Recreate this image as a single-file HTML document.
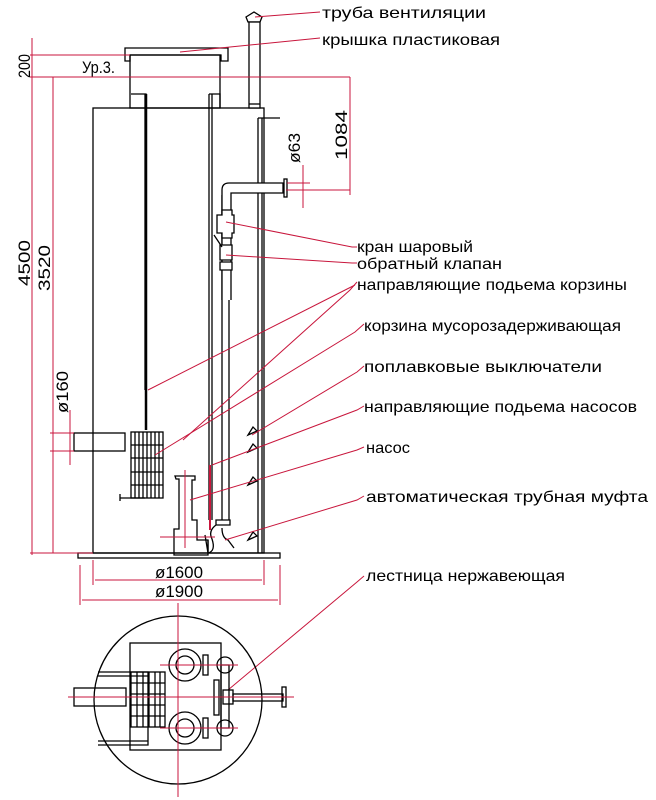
<!DOCTYPE html>
<html><head><meta charset="utf-8"><style>
html,body{margin:0;padding:0;background:#fff}
svg{display:block}
text{font-family:"Liberation Sans",sans-serif;fill:#000}
.k{stroke:#000;stroke-width:1.3;fill:none}
.kw{stroke:#000;stroke-width:1.3;fill:#fff}
.r{stroke:#c8163c;stroke-width:1;fill:none}
.lb{font-size:16px}
.dm{font-size:17px}
</style></head><body>
<svg width="656" height="800" viewBox="0 0 656 800" xmlns="http://www.w3.org/2000/svg">
<path class="k" d="M125 61 V48 H228 V61 H221 V55 H130 V61 Z"/>
<rect class="k" x="130" y="55" width="90" height="53"/>
<rect class="k" x="93" y="108" width="171" height="445"/>
<rect class="k" x="78" y="553" width="202" height="5"/>
<path class="kw" d="M246 17 L254 12 L262 17 L260 22 H248 Z"/>
<rect class="kw" x="249" y="22" width="11" height="86"/>
<line class="k" x1="249" y1="104" x2="260" y2="104"/>
<path class="k" d="M131 94 H146 V390 M145 94 V390" />
<line x1="146" y1="94" x2="146" y2="430" stroke="#000" stroke-width="2.5"/>
<path class="k" d="M209 94 H220 V108 M209 94 V520"/>
<line class="k" x1="212" y1="94" x2="212" y2="520"/>
<path class="k" d="M258 118 H280 M258 118 V553 M262 118 V553"/>
<line class="k" x1="222" y1="195" x2="222" y2="520"/>
<line class="k" x1="229" y1="195" x2="229" y2="520"/>
<path class="kw" d="M222 300 V190 Q222 183 229 183 H283 V193 H231 V300"/>
<rect class="k" x="284" y="179" width="3" height="18"/>
<path class="kw" d="M217 215 h5 v-5 h10 v5 h2 v18 h-2 v5 h-10 v-5 h-5z"/>
<path class="kw" d="M220 245 h12 v15 h-12z M214 235 l8 12 M220 262 h12 v8 h-12z"/>
<path class="k" d="M248 435 l5 -8 l4 4 z M248 452 l5 -8 l4 4 z M248 485 l5 -8 l4 4 z M248 540 l5 -8 l4 4 z"/>
<g class="k">
<rect x="131" y="432" width="32" height="66"/>
<line x1="135" y1="432" x2="135" y2="498"/><line x1="139" y1="432" x2="139" y2="498"/><line x1="143" y1="432" x2="143" y2="498"/><line x1="147" y1="432" x2="147" y2="498"/><line x1="151" y1="432" x2="151" y2="498"/><line x1="155" y1="432" x2="155" y2="498"/><line x1="159" y1="432" x2="159" y2="498"/>
<line x1="131" y1="445" x2="163" y2="445"/><line x1="131" y1="458" x2="163" y2="458"/><line x1="131" y1="472" x2="163" y2="472"/><line x1="131" y1="485" x2="163" y2="485"/>
<line x1="120" y1="498" x2="145" y2="498"/><line x1="120" y1="494" x2="120" y2="501"/>
</g>
<rect class="k" x="74" y="433" width="51" height="18"/>
<path class="k" d="M175 476 h20 v4 h-3 v40 h5 v20 h11 v15 h-34 v-26 h5 v-50 h-3z"/>
<path class="k" d="M208 540 v12 M205 535 l3 18 M216 525 q-8 6 -4 14 q4 12 -4 14 M222 528 q0 10 6 12 l6 8 M216 520 h14 v5 h-14z"/>
<line class="r" x1="185" y1="470" x2="185" y2="548"/>
<line class="r" x1="160" y1="537" x2="215" y2="537"/>
<line x1="210" y1="465" x2="210" y2="530" stroke="#c8163c" stroke-width="2"/>
<g class="r">
<line x1="32" y1="38" x2="32" y2="555"/>
<line x1="30" y1="55" x2="130" y2="55"/>
<line x1="30" y1="77" x2="350" y2="77"/>
<line x1="53" y1="77" x2="53" y2="553"/>
<line x1="30" y1="553" x2="93" y2="553"/>
<line x1="70" y1="410" x2="70" y2="465"/>
<line x1="50" y1="433" x2="74" y2="433"/>
<line x1="50" y1="451" x2="74" y2="451"/>
<line x1="80" y1="565" x2="80" y2="605"/>
<line x1="93" y1="560" x2="93" y2="585"/>
<line x1="264" y1="560" x2="264" y2="585"/>
<line x1="280" y1="565" x2="280" y2="605"/>
<line x1="95" y1="580" x2="262" y2="580"/>
<line x1="82" y1="600" x2="278" y2="600"/>
<line x1="350" y1="77" x2="350" y2="195"/>
<line x1="286" y1="190" x2="350" y2="190"/>
<line x1="287" y1="183" x2="310" y2="183"/>
<line x1="303" y1="165" x2="303" y2="208"/>
</g>
<text class="dm" transform="translate(30 78) rotate(-90)" textLength="24" lengthAdjust="spacingAndGlyphs">200</text>
<text class="dm" transform="translate(30 286) rotate(-90)" textLength="46" lengthAdjust="spacingAndGlyphs">4500</text>
<text class="dm" transform="translate(50 291) rotate(-90)" textLength="46" lengthAdjust="spacingAndGlyphs">3520</text>
<text class="dm" transform="translate(68 413) rotate(-90)" textLength="42" lengthAdjust="spacingAndGlyphs">ø160</text>
<text class="dm" transform="translate(300 163) rotate(-90)" textLength="30" lengthAdjust="spacingAndGlyphs">ø63</text>
<text class="dm" transform="translate(347 160) rotate(-90)" textLength="50" lengthAdjust="spacingAndGlyphs">1084</text>
<text class="dm" x="82" y="73" textLength="33" lengthAdjust="spacingAndGlyphs">Ур.3.</text>
<text class="dm" x="155" y="578" textLength="48" lengthAdjust="spacingAndGlyphs">ø1600</text>
<text class="dm" x="155" y="597" textLength="48" lengthAdjust="spacingAndGlyphs">ø1900</text>
<g class="r">
<polyline points="255,17 320,12"/>
<polyline points="180,52 320,38"/>
<polyline points="226,222 352,247 357,247"/>
<polyline points="226,255 352,263 357,263"/>
<polyline points="183,440 350,290 357,282"/>
<polyline points="148,390 355,285"/>
<polyline points="155,455 355,332 364,324"/>
<polyline points="252,435 357,372 364,366"/>
<polyline points="212,465 357,410 364,406"/>
<polyline points="190,500 357,450 364,447"/>
<polyline points="225,540 357,500 364,496"/>
<polyline points="228,690 357,582 364,576"/>
</g>
<g lengthAdjust="spacingAndGlyphs">
<text class="lb" x="322" y="18" textLength="164" lengthAdjust="spacingAndGlyphs">труба вентиляции</text>
<text class="lb" x="322" y="45" textLength="178" lengthAdjust="spacingAndGlyphs">крышка пластиковая</text>
<text class="lb" x="357" y="252" textLength="116" lengthAdjust="spacingAndGlyphs">кран шаровый</text>
<text class="lb" x="357" y="269" textLength="145" lengthAdjust="spacingAndGlyphs">обратный клапан</text>
<text class="lb" x="357" y="290" textLength="270" lengthAdjust="spacingAndGlyphs">направляющие подьема корзины</text>
<text class="lb" x="364" y="331" textLength="257" lengthAdjust="spacingAndGlyphs">корзина мусорозадерживающая</text>
<text class="lb" x="364" y="372" textLength="238" lengthAdjust="spacingAndGlyphs">поплавковые выключатели</text>
<text class="lb" x="364" y="412" textLength="273" lengthAdjust="spacingAndGlyphs">направляющие подьема насосов</text>
<text class="lb" x="366" y="453" textLength="44" lengthAdjust="spacingAndGlyphs">насос</text>
<text class="lb" x="366" y="502" textLength="282" lengthAdjust="spacingAndGlyphs">автоматическая трубная муфта</text>
<text class="lb" x="366" y="581" textLength="199" lengthAdjust="spacingAndGlyphs">лестница нержавеющая</text>
</g>
<circle class="k" cx="178" cy="700" r="84"/>
<rect class="k" x="130" y="643" width="91" height="107"/>
<rect class="k" x="74" y="688" width="52" height="18"/>
<path class="k" d="M98 672 H148 V745 H98 M98 676 H148 M98 741 H148"/>
<g class="k">
<rect x="131" y="672" width="34" height="55"/>
<line x1="137" y1="672" x2="137" y2="727"/><line x1="143" y1="672" x2="143" y2="727"/><line x1="149" y1="672" x2="149" y2="727"/><line x1="155" y1="672" x2="155" y2="727"/><line x1="160" y1="672" x2="160" y2="727"/>
<line x1="131" y1="683" x2="165" y2="683"/><line x1="131" y1="694" x2="165" y2="694"/><line x1="131" y1="705" x2="165" y2="705"/><line x1="131" y1="716" x2="165" y2="716"/>
<circle cx="185" cy="665" r="16"/><circle cx="185" cy="665" r="9"/>
<circle cx="185" cy="728" r="16"/><circle cx="185" cy="728" r="9"/>
<rect x="203" y="655" width="5" height="20"/><rect x="203" y="718" width="5" height="20"/>
<circle cx="225" cy="665" r="8"/><circle cx="225" cy="728" r="8"/>
<rect x="221" y="665" width="8" height="63"/>
<rect x="214" y="680" width="5" height="35"/>
<rect x="223" y="690" width="10" height="14"/>
<rect x="233" y="694" width="50" height="7"/>
<rect x="282" y="687" width="4" height="20"/>
</g>
<g class="r">
<line x1="178" y1="603" x2="178" y2="797"/>
<line x1="68" y1="697" x2="294" y2="697"/>
<line x1="160" y1="665" x2="238" y2="665"/>
<line x1="160" y1="728" x2="238" y2="728"/>
</g>
</svg>
</body></html>
